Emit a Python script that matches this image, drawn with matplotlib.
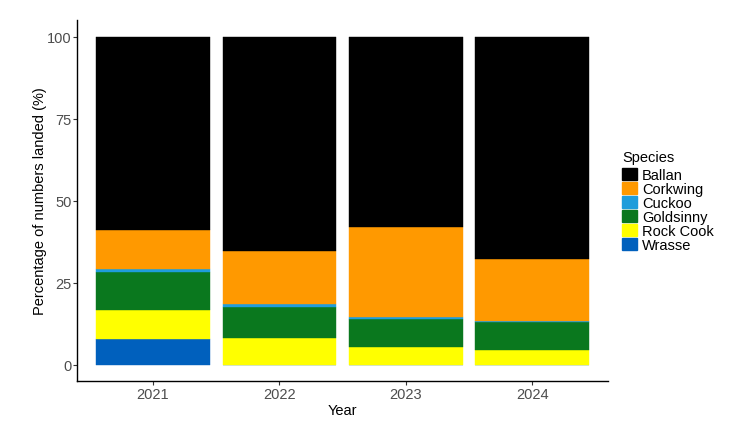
import numpy as np
import matplotlib
matplotlib.use('Agg')
import matplotlib.pyplot as plt
from matplotlib.patches import Patch

plt.rcParams['font.family'] = ['Liberation Sans', 'DejaVu Sans']

# Percentage of numbers landed, by year
years = ['2021', '2022', '2023', '2024']
species = ['Wrasse', 'Rock Cook', 'Goldsinny', 'Cuckoo', 'Corkwing', 'Ballan']
wrasse = [7.9, 0.0, 0.0, 0.0]
rock_cook = [8.6, 8.1, 5.3, 4.4]
goldsinny = [11.6, 9.4, 8.5, 8.5]
cuckoo = [1.0, 0.9, 0.6, 0.5]
corkwing = [11.9, 16.1, 27.6, 18.8]
ballan = [59.0, 65.5, 58.0, 67.8]

colours = {'Ballan': '#000000', 'Corkwing': '#FF9900', 'Cuckoo': '#1F9DDB',
           'Goldsinny': '#0A781E', 'Rock Cook': '#FFFF00', 'Wrasse': '#0060BD'}

values = [wrasse, rock_cook, goldsinny, cuckoo, corkwing, ballan]

fig = plt.figure(figsize=(7.38, 4.31), dpi=100)
ax = fig.add_axes([0.1046, 0.1137, 0.7195, 0.837])

x = np.arange(1, len(years) + 1)
bottom = np.zeros(len(years))
for name, vals in zip(species, values):
    vals = np.array(vals)
    ax.bar(x, vals, width=0.9, bottom=bottom, color=colours[name],
           edgecolor=colours[name], linewidth=0.3)
    bottom += vals

ax.set_xlim(0.4, 4.6)
ax.set_ylim(-5, 105)
ax.set_xticks(x)
ax.set_xticklabels(years)
ax.set_yticks([0, 25, 50, 75, 100])
ax.set_xlabel('Year', fontsize=10.5, labelpad=2)
ax.set_ylabel('Percentage of numbers landed (%)', fontsize=10.5, labelpad=0)
ax.tick_params(colors='#333333', labelcolor='#4D4D4D', labelsize=10.5,
               length=2.8, width=0.8, pad=1.2)
for s in ['top', 'right']:
    ax.spines[s].set_visible(False)
for s in ['left', 'bottom']:
    ax.spines[s].set_linewidth(1.0)

names = ['Ballan', 'Corkwing', 'Cuckoo', 'Goldsinny', 'Rock Cook', 'Wrasse']
handles = [Patch(facecolor=colours[n], edgecolor=colours[n]) for n in names]
leg = fig.legend(handles, names,
                 title='Species', loc='center left', bbox_to_anchor=(0.843, 0.531),
                 frameon=False, fontsize=10.5, title_fontsize=10.5,
                 handlelength=1.0, handleheight=0.9, handletextpad=0.35,
                 labelspacing=0.0, borderaxespad=0, borderpad=0)
leg._legend_box.align = 'left'
leg._legend_box.sep = 3

fig.savefig('out.png', dpi=100)
